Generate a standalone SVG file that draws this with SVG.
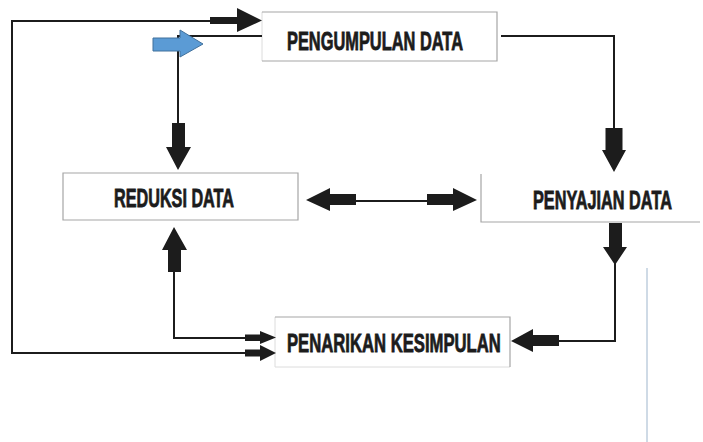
<svg xmlns="http://www.w3.org/2000/svg" width="703" height="442" viewBox="0 0 703 442">
<style>
.bx{fill:#ffffff;stroke:none}
.ed{fill:none;stroke:#a6a6a6;stroke-width:1.2}
.fe{fill:none;stroke:#dcdcdc;stroke-width:1}
.lb{font-family:"Liberation Sans",Arial,sans-serif;font-weight:bold;font-size:25px;fill:#1c1c1c;stroke:#1c1c1c;stroke-width:0.8}
.ln{fill:none;stroke:#1c1c1c;stroke-width:2}
.ar{fill:#1c1c1c;stroke:none}
</style>
<rect width="703" height="442" fill="#ffffff"/>
<g id="node-pengumpulan">
<rect class="bx" x="262" y="12" width="235" height="49"/>
<path class="fe" d="M262,12 V61"/>
<path class="ed" d="M262,12 H497 V61 H262"/>
<text class="lb" transform="translate(287,50) scale(0.64,1)" x="0" y="0" textLength="275" lengthAdjust="spacingAndGlyphs">PENGUMPULAN DATA</text>
</g>
<g id="node-reduksi">
<rect class="bx" x="63" y="173" width="235" height="47"/>
<path class="ed" d="M63,173 H298 V220 H63 Z"/>
<text class="lb" transform="translate(114,207) scale(0.64,1)" x="0" y="0" textLength="187.5" lengthAdjust="spacingAndGlyphs">REDUKSI DATA</text>
</g>
<g id="node-penyajian">
<rect class="bx" x="481" y="174" width="219" height="48"/>
<path class="ed" d="M481,174 V222 H700"/>
<text class="lb" transform="translate(533,209) scale(0.64,1)" x="0" y="0" textLength="217" lengthAdjust="spacingAndGlyphs">PENYAJIAN DATA</text>
</g>
<g id="node-penarikan">
<rect class="bx" x="275" y="317" width="235" height="50"/>
<path class="fe" d="M275,317 V367 H510"/>
<path class="ed" d="M275,317 H510 V367"/>
<text class="lb" transform="translate(287,352) scale(0.64,1)" x="0" y="0" textLength="334" lengthAdjust="spacingAndGlyphs">PENARIKAN KESIMPULAN</text>
</g>
<g id="connectors">
<path class="ln" d="M245,353 H12 V21 H212"/>
<polygon class="ar" points="210,17 237,17 237,8 262,20.5 237,32 237,24 210,24"/>
<path class="ln" d="M262,36 H178 V125"/>
<polygon points="153,38 180,38 180,30 203,44 180,57 180,51 153,51" fill="#5b9bd5" stroke="#41719c" stroke-width="1"/>
<polygon class="ar" points="172,123 185,123 185,147 191,147 178,170 166,147 172,147"/>
<path class="ln" d="M501,36 H614 V130"/>
<polygon class="ar" points="605.5,128 622.5,128 622.5,150 626,150 614,172 602,150 605.5,150"/>
<path class="ln" d="M356,201 H427"/>
<polygon class="ar" points="356,194 330,194 330,188 306,200 330,211 330,205 356,205"/>
<polygon class="ar" points="427,194 453,194 453,188 477,200 453,211 453,205 427,205"/>
<polygon class="ar" points="609,223 622,223 622,247 627,247 615,265 603,247 609,247"/>
<path class="ln" d="M615,263 V341 H557"/>
<polygon class="ar" points="559,335 533,335 533,329 511,341 533,352 533,346 559,346"/>
<path class="ln" d="M174,270 V338 H247"/>
<polygon class="ar" points="168,272 181,272 181,250 187,250 174,227 162,250 168,250"/>
<polygon class="ar" points="245,334.5 260,334.5 260,331 276,337.5 260,344 260,341 245,341"/>
<polygon class="ar" points="245,349.5 260,349.5 260,345 276,353 260,361 260,356.5 245,356.5"/>
<path d="M647,268 V442" fill="none" stroke="#9fb6cd" stroke-width="1"/>
</g>
</svg>
